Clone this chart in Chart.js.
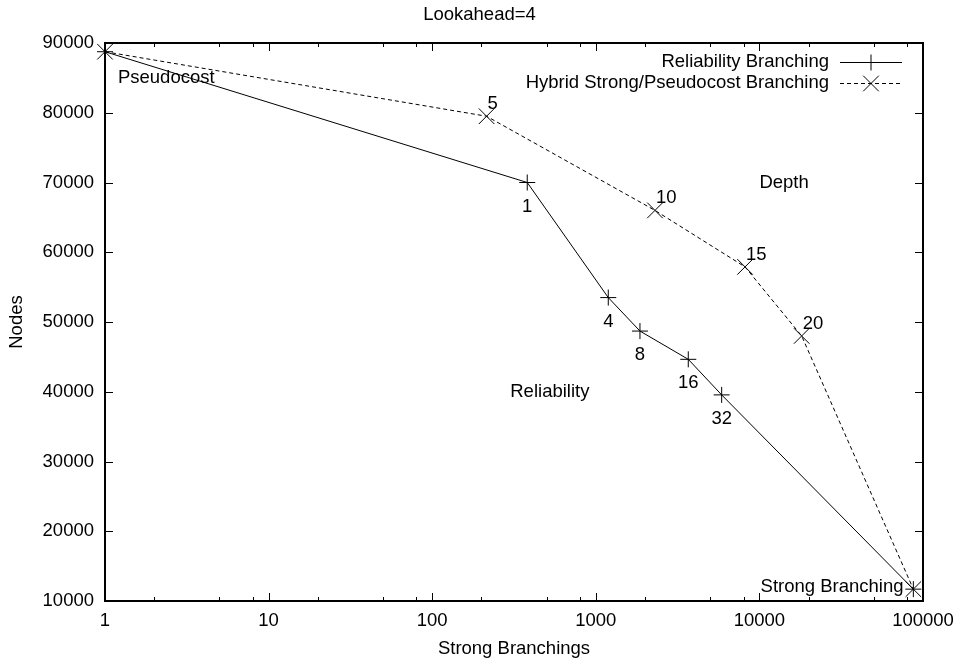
<!DOCTYPE html>
<html>
<head>
<meta charset="utf-8">
<script src="https://cdn.jsdelivr.net/npm/chart.js@4/dist/chart.umd.min.js"></script>
<style>
    html, body { margin: 0; padding: 0; background: #fff; }
    #wrap { width: 959px; height: 665px; }
</style>
</head>
<body>
<div id="wrap"><canvas id="chart" width="959" height="665"></canvas></div>
<script>
// values
const relBranchings = [1, 381, 1192, 1862, 3675, 5880, 87300];
const relNodes      = [88750, 70000, 53500, 48700, 44650, 39550, 11700];
const relTags       = ['', '1', '4', '8', '16', '32', ''];

const hybBranchings = [1, 215, 2300, 8170, 18130, 87300];
const hybNodes      = [88750, 79500, 66000, 57900, 48000, 11700];
const hybTags       = ['', '5', '10', '15', '20', ''];

const xTicks = [1, 10, 100, 1000, 10000, 100000];
const xMinor = [2, 5, 8, 20, 50, 80, 200, 500, 800, 2000, 5000, 8000, 20000, 50000, 80000];
const yTicks = [10000, 20000, 30000, 40000, 50000, 60000, 70000, 80000, 90000];

const seriesNames = ['Reliability Branching', 'Hybrid Strong/Pseudocost Branching'];
const chartTitle = 'Lookahead=4';

// free text labels, placed in data coordinates (like gnuplot "set label")
const notes = [
    { text: 'Pseudocost', x: 1.2, y: 85000, align: 'left' },
    { text: 'Depth', x: 10000, y: 70000, align: 'left' },
    { text: 'Reliability', x: 300, y: 40000, align: 'left' },
    { text: 'Strong Branching', x: 76000, y: 12000, align: 'right' },
];

const FONT = '"Liberation Sans", Arial, sans-serif';
const FS = 18.5;

const toPoints = (xs, ys) => xs.map((x, i) => ({ x, y: ys[i] }));

// frame + inward ticks on all four sides
const framePlugin = {
    id: 'frame',
    afterDraw(chart) {
        const { ctx, chartArea: a, scales: { x, y } } = chart;
        ctx.save();
        ctx.strokeStyle = '#000';
        ctx.lineWidth = 1;
        ctx.beginPath();
        xTicks.forEach(v => {
            const px = Math.round(x.getPixelForValue(v)) + 0.5;
            ctx.moveTo(px, a.bottom); ctx.lineTo(px, a.bottom - 8);
            ctx.moveTo(px, a.top); ctx.lineTo(px, a.top + 8);
        });
        xMinor.forEach(v => {
            const px = Math.round(x.getPixelForValue(v)) + 0.5;
            ctx.moveTo(px, a.bottom); ctx.lineTo(px, a.bottom - 4);
            ctx.moveTo(px, a.top); ctx.lineTo(px, a.top + 4);
        });
        yTicks.forEach(v => {
            const py = Math.round(y.getPixelForValue(v)) + 0.5;
            ctx.moveTo(a.left, py); ctx.lineTo(a.left + 8, py);
            ctx.moveTo(a.right, py); ctx.lineTo(a.right - 8, py);
        });
        ctx.stroke();
        ctx.lineWidth = 2;
        ctx.strokeRect(a.left, a.top, a.right - a.left, a.bottom - a.top);
        ctx.restore();
    }
};

// title, point tags, free labels and a gnuplot style key
const textPlugin = {
    id: 'texts',
    afterDatasetsDraw(chart) {
        const { ctx, scales: { x, y } } = chart;
        ctx.save();
        ctx.fillStyle = '#000';
        ctx.font = `${FS}px ${FONT}`;
        ctx.textBaseline = 'middle';

        ctx.textAlign = 'center';
        ctx.fillText(chartTitle, chart.width / 2, 15);

        relTags.forEach((t, i) => {
            if (!t) return;
            ctx.fillText(t, x.getPixelForValue(relBranchings[i]), y.getPixelForValue(relNodes[i]) + 24);
        });
        ctx.textAlign = 'left';
        hybTags.forEach((t, i) => {
            if (!t) return;
            ctx.fillText(t, x.getPixelForValue(hybBranchings[i]) + 1, y.getPixelForValue(hybNodes[i]) - 12);
        });

        notes.forEach(n => {
            ctx.textAlign = n.align;
            ctx.fillText(n.text, x.getPixelForValue(n.x), y.getPixelForValue(n.y));
        });

        // key
        const rows = [62, 83];
        chart.data.datasets.forEach((ds, i) => {
            const ry = rows[i];
            ctx.textAlign = 'right';
            ctx.fillText(seriesNames[i], 829, ry);
            ctx.strokeStyle = '#000';
            ctx.lineWidth = 1;
            ctx.setLineDash(ds.borderDash || []);
            ctx.beginPath();
            ctx.moveTo(840, ry + 0.5); ctx.lineTo(902, ry + 0.5);
            ctx.stroke();
            ctx.setLineDash([]);
            Chart.helpers.drawPoint(ctx, {
                pointStyle: ds.pointStyle, radius: ds.pointRadius, borderWidth: 1, rotation: 0
            }, 871, ry + 0.5);
        });
        ctx.restore();
    }
};

new Chart(document.getElementById('chart'), {
    type: 'line',
    data: {
        datasets: [
            {
                label: seriesNames[0],
                data: toPoints(relBranchings, relNodes),
                borderColor: '#000',
                backgroundColor: '#000',
                borderWidth: 1,
                pointStyle: 'cross',
                pointRadius: 8,
                pointBorderWidth: 1,
                tension: 0,
                clip: false,
            },
            {
                label: seriesNames[1],
                data: toPoints(hybBranchings, hybNodes),
                borderColor: '#000',
                backgroundColor: '#000',
                borderWidth: 1,
                borderDash: [4, 3],
                pointStyle: 'crossRot',
                pointRadius: 11,
                pointBorderWidth: 1,
                tension: 0,
                clip: false,
            },
        ]
    },
    options: {
        responsive: false,
        animation: false,
        layout: { padding: { left: 0, right: 36, top: 43, bottom: 0 } },
        plugins: {
            legend: { display: false },
            tooltip: { enabled: false },
            title: { display: false },
        },
        scales: {
            x: {
                type: 'logarithmic',
                min: 1,
                max: 100000,
                afterBuildTicks: (s) => { s.ticks = xTicks.map(v => ({ value: v })); },
                afterFit: (s) => { s.height = 64; s.paddingLeft = 0; s.paddingRight = 0; },
                grid: { display: false, drawTicks: false },
                border: { display: false },
                ticks: {
                    color: '#000',
                    font: { family: FONT, size: FS },
                    padding: 9,
                    autoSkip: false,
                    maxRotation: 0,
                    callback: (v) => String(v),
                },
                title: {
                    display: true,
                    text: 'Strong Branchings',
                    color: '#000',
                    font: { family: FONT, size: FS },
                    padding: { top: 5, bottom: 5 },
                },
            },
            y: {
                min: 10000,
                max: 90000,
                afterBuildTicks: (s) => { s.ticks = yTicks.map(v => ({ value: v })); },
                afterFit: (s) => { s.width = 105; s.paddingTop = 0; s.paddingBottom = 0; },
                grid: { display: false, drawTicks: false },
                border: { display: false },
                ticks: {
                    color: '#000',
                    font: { family: FONT, size: FS },
                    padding: 11,
                    callback: (v) => String(v),
                },
                title: {
                    display: true,
                    text: 'Nodes',
                    color: '#000',
                    font: { family: FONT, size: FS },
                    padding: { top: 6, bottom: 0 },
                },
            },
        },
    },
    plugins: [framePlugin, textPlugin],
});
</script>
</body>
</html>
